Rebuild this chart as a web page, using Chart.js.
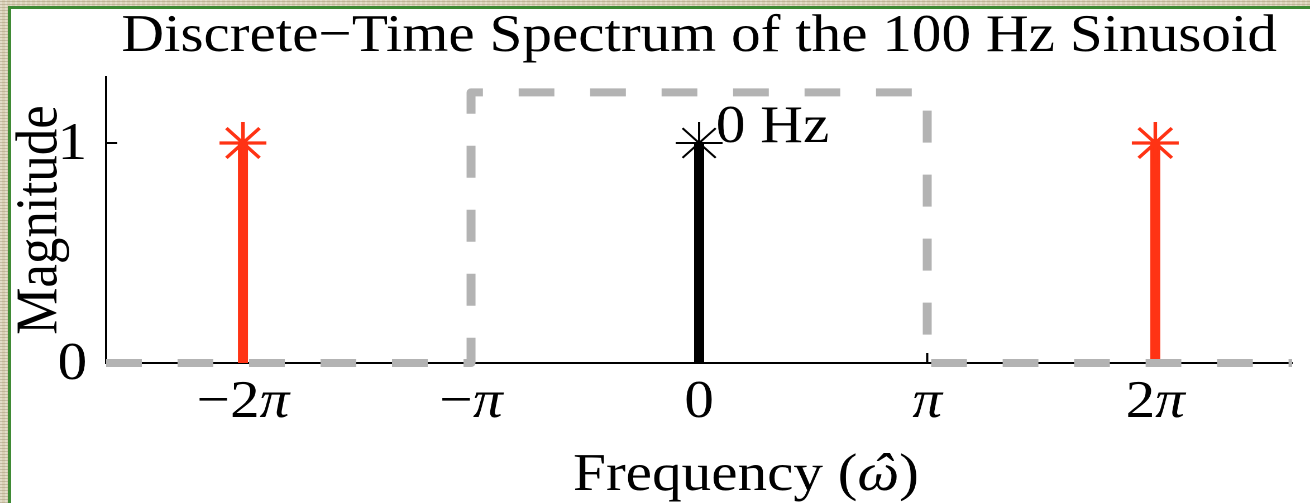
<!DOCTYPE html>
<html>
<head>
<meta charset="utf-8">
<script src="https://cdn.jsdelivr.net/npm/chart.js@4.4.1/dist/chart.umd.min.js"></script>
<style>
  html, body { margin: 0; padding: 0; width: 1310px; height: 503px; overflow: hidden; }
  body {
    background-color: #d9d0b6;
    background-image:
      repeating-linear-gradient(0deg, rgba(140,128,96,0.35) 0 1px, rgba(0,0,0,0) 1px 3px),
      repeating-linear-gradient(90deg, rgba(255,255,255,0.25) 0 2px, rgba(0,0,0,0) 2px 5px);
  }
  #frame {
    position: absolute; left: 8px; top: 6px; right: 0; bottom: 0;
    background: #ffffff;
    border-top: 3px solid #3f8a35;
    border-left: 3px solid #3f8a35;
  }
  /* the figure is printed slightly wider than tall */
  #wrap {
    position: absolute; left: 0; top: 0; width: 1173px; height: 503px;
    transform: scaleX(1.11679); transform-origin: 0 0;
  }
</style>
</head>
<body>
<div id="frame"></div>
<div id="wrap"><canvas id="c" width="1173" height="503"></canvas></div>
<script>
// Frequencies are expressed in multiples of pi.
const xTickValues = [-2, -1, 0, 1, 2];
const xTickLabels = ['\u22122\u03C0', '\u2212\u03C0', '0', '\u03C0', '2\u03C0'];
const yTickValues = [0, 1];

// Spectrum lines of the sampled 100 Hz sinusoid
const stemFreqs  = [-2, 0, 2];
const stemMags   = [1, 1, 1];
const stemColors = ['#ff3314', '#000000', '#ff3314'];

// Ideal lowpass reconstruction band (dashed outline)
const filterFreqs = [-2.6, -1, -1, 1, 1, 2.6];
const filterGain  = [0, 0, 1.23, 1.23, 0, 0];

// Label attached to the baseband line
const noteText = '0 Hz';
const noteFreq = 0;
const noteMag  = 1;

// Horizontal axis label: roman text, italic omega with a hat, roman text
const xTitleParts = ['Frequency (', '\u03C9', ')'];

const SERIF = "'Liberation Serif', 'Times New Roman', serif";
const FONT_SIZE = 53;

const datasets = [{
  label: 'band',
  data: filterFreqs.map((f, i) => ({ x: f, y: filterGain[i] })),
  borderColor: '#b3b3b3',
  borderWidth: 8,
  borderDash: [32, 32],
  borderCapStyle: 'butt',
  borderJoinStyle: 'round',
  pointRadius: 0,
  tension: 0,
  clip: false,
  order: 0
}];

stemFreqs.forEach((f, i) => {
  const black = stemColors[i] === '#000000';
  datasets.push({
    label: 'line ' + i,
    data: [{ x: f, y: 0 }, { x: f, y: stemMags[i] }],
    borderColor: stemColors[i],
    borderWidth: 9,
    borderCapStyle: 'butt',
    pointStyle: 'star',
    pointRadius: [0, 21],
    pointBorderWidth: black ? 2 : 3.2,
    pointBorderColor: stemColors[i],
    pointBackgroundColor: stemColors[i],
    clip: false,
    order: 1
  });
});

// Short tick marks pointing into the plot area
const inwardTicks = {
  id: 'inwardTicks',
  beforeDatasetsDraw(chart) {
    const { ctx, chartArea: a, scales: { x, y } } = chart;
    ctx.save();
    ctx.strokeStyle = '#000';
    ctx.lineWidth = 2;
    xTickValues.forEach(v => {
      const px = x.getPixelForValue(v);
      ctx.beginPath(); ctx.moveTo(px, a.bottom); ctx.lineTo(px, a.bottom - 10); ctx.stroke();
    });
    yTickValues.forEach(v => {
      const py = y.getPixelForValue(v);
      ctx.beginPath(); ctx.moveTo(a.left, py); ctx.lineTo(a.left + 10, py); ctx.stroke();
    });
    ctx.restore();
  }
};

// Draws a string where every pi is set in italic, centred on cx
function drawMathText(ctx, text, cx, baseY, size) {
  const runs = [];
  for (const ch of text) {
    const it = ch === '\u03C0';
    if (runs.length && runs[runs.length - 1].it === it) runs[runs.length - 1].s += ch;
    else runs.push({ s: ch, it });
  }
  let total = 0;
  runs.forEach(r => {
    ctx.font = (r.it ? 'italic ' : '') + size + 'px ' + SERIF;
    r.w = ctx.measureText(r.s).width;
    total += r.w;
  });
  let xx = cx - total / 2;
  runs.forEach(r => {
    ctx.font = (r.it ? 'italic ' : '') + size + 'px ' + SERIF;
    ctx.fillText(r.s, xx, baseY);
    xx += r.w;
  });
}

// Tick labels of the frequency axis, the axis label and the 0 Hz note
const textLayer = {
  id: 'textLayer',
  afterDraw(chart) {
    const { ctx, chartArea: a, scales: { x, y } } = chart;
    ctx.save();
    ctx.fillStyle = '#000';
    ctx.textAlign = 'left';
    ctx.textBaseline = 'alphabetic';

    xTickValues.forEach((v, i) => {
      drawMathText(ctx, xTickLabels[i], x.getPixelForValue(v), a.bottom + 54, FONT_SIZE);
    });

    const reg = FONT_SIZE + 'px ' + SERIF, ita = 'italic ' + FONT_SIZE + 'px ' + SERIF;
    ctx.font = reg;
    const w1 = ctx.measureText(xTitleParts[0]).width;
    const w3 = ctx.measureText(xTitleParts[2]).width;
    ctx.font = ita;
    const w2 = ctx.measureText(xTitleParts[1]).width;
    const base = a.bottom + 127;
    let x0 = (a.left + a.right) / 2 - (w1 + w2 + w3) / 2 + 42;
    ctx.font = reg; ctx.fillText(xTitleParts[0], x0, base);
    ctx.font = ita; ctx.fillText(xTitleParts[1], x0 + w1, base);
    ctx.textAlign = 'center';
    ctx.fillText('\u02C6', x0 + w1 + w2 / 2 + 3, base);
    ctx.textAlign = 'left';
    ctx.font = reg; ctx.fillText(xTitleParts[2], x0 + w1 + w2, base);

    ctx.font = reg;
    ctx.fillText(noteText, x.getPixelForValue(noteFreq) + 15, y.getPixelForValue(noteMag) - 1);
    ctx.restore();
  }
};

new Chart(document.getElementById('c'), {
  type: 'line',
  data: { datasets },
  plugins: [inwardTicks, textLayer],
  options: {
    responsive: false,
    animation: false,
    devicePixelRatio: 2,
    layout: { autoPadding: false, padding: { left: 0, right: 16, top: 0, bottom: 0 } },
    plugins: {
      legend: { display: false },
      tooltip: { enabled: false },
      title: {
        display: true,
        fullSize: false,
        text: 'Discrete\u2212Time Spectrum of the 100 Hz Sinusoid',
        color: '#000',
        font: { family: SERIF, size: FONT_SIZE, weight: 'normal', lineHeight: 1.2 },
        padding: { top: 5.3, bottom: 8.1 }
      }
    },
    scales: {
      x: {
        type: 'linear',
        min: -2.6,
        max: 2.6,
        afterBuildTicks: s => { s.ticks = xTickValues.map(v => ({ value: v })); },
        afterFit: s => { s.height = 140; },
        grid: { drawOnChartArea: false, drawTicks: false },
        border: { display: true, color: '#000', width: 2 },
        ticks: { display: false }
      },
      y: {
        type: 'linear',
        min: 0,
        max: 1.3,
        afterBuildTicks: s => { s.ticks = yTickValues.map(v => ({ value: v })); },
        afterFit: s => { s.width = 95; },
        grid: { drawOnChartArea: false, drawTicks: false },
        border: { display: true, color: '#000', width: 2 },
        ticks: {
          padding: 17, labelOffset: 2, color: '#000',
          font: { family: SERIF, size: FONT_SIZE }
        },
        title: {
          display: true, text: 'Magnitude', color: '#000',
          font: { family: SERIF, size: FONT_SIZE, lineHeight: 1 },
          padding: { top: 10, bottom: 0 }
        }
      }
    }
  }
});
</script>
</body>
</html>
